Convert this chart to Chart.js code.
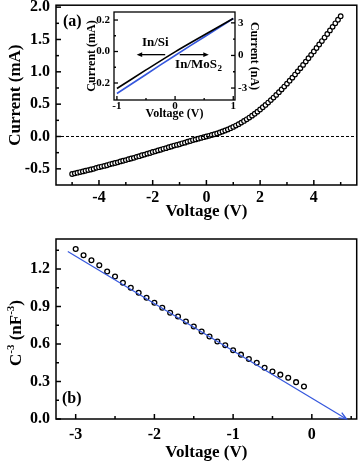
<!DOCTYPE html>
<html lang="en">
<head>
<meta charset="UTF-8">
<title>I-V and C-V plots</title>
<style>
  html, body { margin: 0; padding: 0; background: #fff; }
  .wrap { position: relative; width: 362px; height: 466px; overflow: hidden; }
  canvas { position: absolute; }
  #chartA { left: 0; top: 0; }
  #chartB { left: 0; top: 233px; }
  #chartIn { left: 84px; top: 7px; }
</style>
<script src="https://cdn.jsdelivr.net/npm/chart.js"></script>
</head>
<body>
<div class="wrap">
  <canvas id="chartA" width="362" height="233"></canvas>
  <canvas id="chartB" width="362" height="233"></canvas>
  <canvas id="chartIn" width="178" height="116"></canvas>
</div>
<script>
// (a) I-V curve, mA
const ivVoltage = [-5.0, -4.9, -4.8, -4.7, -4.6, -4.5, -4.4, -4.3, -4.2, -4.1,
  -4.0, -3.9, -3.8, -3.7, -3.6, -3.5, -3.4, -3.3, -3.2, -3.1,
  -3.0, -2.9, -2.8, -2.7, -2.6, -2.5, -2.4, -2.3, -2.2, -2.1,
  -2.0, -1.9, -1.8, -1.7, -1.6, -1.5, -1.4, -1.3, -1.2, -1.1,
  -1.0, -0.9, -0.8, -0.7, -0.6, -0.5, -0.4, -0.3, -0.2, -0.1,
  0.0, 0.1, 0.2, 0.3, 0.4, 0.5, 0.6, 0.7, 0.8, 0.9,
  1.0, 1.1, 1.2, 1.3, 1.4, 1.5, 1.6, 1.7, 1.8, 1.9,
  2.0, 2.1, 2.2, 2.3, 2.4, 2.5, 2.6, 2.7, 2.8, 2.9,
  3.0, 3.1, 3.2, 3.3, 3.4, 3.5, 3.6, 3.7, 3.8, 3.9,
  4.0, 4.1, 4.2, 4.3, 4.4, 4.5, 4.6, 4.7, 4.8, 4.9, 5.0];
const ivCurrent = [-0.58, -0.57, -0.56, -0.55, -0.54, -0.53, -0.52, -0.51, -0.50, -0.485,
  -0.475, -0.465, -0.455, -0.445, -0.43, -0.42, -0.41, -0.40, -0.385, -0.375,
  -0.365, -0.35, -0.34, -0.33, -0.315, -0.305, -0.29, -0.28, -0.265, -0.255,
  -0.24, -0.23, -0.215, -0.205, -0.19, -0.18, -0.165, -0.155, -0.14, -0.13,
  -0.12, -0.105, -0.095, -0.08, -0.07, -0.055, -0.045, -0.033, -0.022, -0.011,
  0.00, 0.011, 0.023, 0.035, 0.048, 0.062, 0.077, 0.093, 0.11, 0.128,
  0.148, 0.169, 0.191, 0.215, 0.24, 0.266, 0.293, 0.322, 0.352, 0.384,
  0.417, 0.452, 0.488, 0.525, 0.563, 0.602, 0.643, 0.685, 0.728, 0.772,
  0.817, 0.863, 0.91, 0.958, 1.007, 1.057, 1.107, 1.158, 1.21, 1.262,
  1.315, 1.368, 1.422, 1.476, 1.53, 1.585, 1.64, 1.695, 1.75, 1.805, 1.86];
const ivXTicks = [-4, -2, 0, 2, 4];
const ivXMinor = [-5, -3, -1, 1, 3, 5];
const ivYTicks = [-0.5, 0.0, 0.5, 1.0, 1.5, 2.0];
const ivYMinor = [-0.25, 0.25, 0.75, 1.25, 1.75];

// inset: In/Si in mA (left axis), In/MoS2 in nA (right axis)
const insetVoltage = [-1.0, -0.5, 0.0, 0.5, 1.0];
const inSiCurrent = [-0.235, -0.117, -0.002, 0.105, 0.21];
const inMoS2Current = [-3.5, -1.75, 0.0, 1.7, 3.4];
const insetXTicks = [-1, 0, 1];
const insetXMinor = [-0.5, 0.5];
const insetYTicks = [-0.2, 0.0, 0.2];
const insetYMinor = [-0.1, 0.1];
const insetY2Ticks = [-3, 0, 3];
const insetY2Minor = [-1.5, 1.5];

// (b) C^-3 vs V
const cvVoltage = [-3.0, -2.9, -2.8, -2.7, -2.6, -2.5, -2.4, -2.3, -2.2, -2.1,
  -2.0, -1.9, -1.8, -1.7, -1.6, -1.5, -1.4, -1.3, -1.2, -1.1,
  -1.0, -0.9, -0.8, -0.7, -0.6, -0.5, -0.4, -0.3, -0.2, -0.1];
const cvInvC3 = [1.36, 1.31, 1.27, 1.23, 1.18, 1.14, 1.09, 1.05, 1.01, 0.97,
  0.93, 0.89, 0.85, 0.82, 0.78, 0.74, 0.70, 0.66, 0.62, 0.59,
  0.55, 0.515, 0.48, 0.45, 0.41, 0.38, 0.355, 0.33, 0.295, 0.26];
const fitVoltage = [-3.1, 0.44];
const fitInvC3 = [1.34, 0.0];
const cvXTicks = [-3, -2, -1, 0];
const cvXMinor = [-2.5, -1.5, -0.5, 0.5];
const cvYTicks = [0.0, 0.3, 0.6, 0.9, 1.2];
const cvYMinor = [0.15, 0.45, 0.75, 1.05, 1.35];

const BLUE = '#3557dd';
const SERIF = "'Liberation Serif', 'Times New Roman', serif";

Chart.defaults.font.family = SERIF;
Chart.defaults.font.weight = 'bold';
Chart.defaults.color = '#000';

const pts = (xs, ys) => xs.map((x, i) => ({ x: x, y: ys[i] }));
const setTicks = list => s => { s.ticks = list.map(v => ({ value: v })); };
const fixW = w => s => { s.width = w; s.paddingTop = 0; s.paddingBottom = 0; };
const fixH = h => s => { s.height = h; s.paddingLeft = 0; s.paddingRight = 0; };

// box round the plot area, inward ticks, and extra drawings
const framePlugin = {
  id: 'frame',
  afterDraw(chart, args, opts) {
    const ctx = chart.ctx, a = chart.chartArea;
    ctx.save();
    ctx.strokeStyle = '#000';
    ctx.lineWidth = opts.lineWidth || 1.5;
    ctx.strokeRect(a.left, a.top, a.right - a.left, a.bottom - a.top);
    (opts.ticks || []).forEach(t => {
      const s = chart.scales[t.scale];
      const mark = (v, len) => {
        const p = s.getPixelForValue(v);
        ctx.beginPath();
        if (t.side === 'bottom') { ctx.moveTo(p, a.bottom); ctx.lineTo(p, a.bottom - len); }
        else if (t.side === 'left') { ctx.moveTo(a.left, p); ctx.lineTo(a.left + len, p); }
        else { ctx.moveTo(a.right, p); ctx.lineTo(a.right - len, p); }
        ctx.stroke();
      };
      t.major.forEach(v => mark(v, opts.majorLen || 5));
      t.minor.forEach(v => mark(v, opts.minorLen || 3));
    });
    ctx.restore();
    if (opts.extra) opts.extra(chart, ctx, a);
  }
};

function arrowHead(ctx, x0, y0, x1, y1, size, filled) {
  const ang = Math.atan2(y1 - y0, x1 - x0);
  ctx.beginPath();
  ctx.moveTo(x1 - size * Math.cos(ang - 0.4), y1 - size * Math.sin(ang - 0.4));
  ctx.lineTo(x1, y1);
  ctx.lineTo(x1 - size * Math.cos(ang + 0.4), y1 - size * Math.sin(ang + 0.4));
  if (filled) { ctx.closePath(); ctx.fill(); } else { ctx.stroke(); }
}

// ---------- panel (a) ----------
new Chart(document.getElementById('chartA'), {
  type: 'scatter',
  data: {
    datasets: [{
      data: pts(ivVoltage, ivCurrent),
      pointRadius: 2.3,
      pointBorderWidth: 1.2,
      pointBorderColor: '#000',
      pointBackgroundColor: '#fff',
      showLine: false
    }]
  },
  options: {
    responsive: false,
    animation: false,
    devicePixelRatio: 1,
    layout: { padding: { top: 5, right: 3, left: 0, bottom: 0 } },
    plugins: {
      legend: { display: false },
      tooltip: { enabled: false },
      frame: {
        ticks: [
          { scale: 'x', side: 'bottom', major: ivXTicks, minor: ivXMinor },
          { scale: 'y', side: 'left', major: ivYTicks, minor: ivYMinor }
        ],
        extra(chart, ctx, a) {
          const y0 = chart.scales.y.getPixelForValue(0);
          ctx.save();
          ctx.strokeStyle = '#000';
          ctx.lineWidth = 1;
          ctx.setLineDash([3, 2]);
          ctx.beginPath();
          ctx.moveTo(a.left, y0);
          ctx.lineTo(a.right, y0);
          ctx.stroke();
          ctx.setLineDash([]);
          ctx.font = 'bold 16px ' + SERIF;
          ctx.fillStyle = '#000';
          ctx.textBaseline = 'middle';
          ctx.fillText('(a)', a.left + 7, a.top + 17);
          ctx.restore();
        }
      }
    },
    scales: {
      x: {
        type: 'linear', min: -5.6, max: 5.6,
        afterBuildTicks: setTicks(ivXTicks),
        afterFit: fixH(48),
        grid: { display: false, drawTicks: false },
        border: { display: false },
        ticks: { font: { size: 16 }, padding: 3, callback: v => String(v) },
        title: { display: true, text: 'Voltage (V)', font: { size: 17 }, padding: { bottom: 11, top: 0 } }
      },
      y: {
        type: 'linear', min: -0.75, max: 2.03,
        afterBuildTicks: setTicks(ivYTicks),
        afterFit: fixW(56),
        grid: { display: false, drawTicks: false },
        border: { display: false },
        ticks: { font: { size: 16 }, padding: 6, callback: v => v.toFixed(1) },
        title: { display: true, text: 'Current (mA)', font: { size: 17 }, padding: { top: 5, bottom: 0 } }
      }
    }
  },
  plugins: [framePlugin]
});

// ---------- inset ----------
new Chart(document.getElementById('chartIn'), {
  type: 'scatter',
  data: {
    datasets: [{
      data: pts(insetVoltage, inSiCurrent),
      yAxisID: 'y',
      showLine: true,
      borderColor: '#000',
      borderWidth: 1.6,
      pointRadius: 0,
      tension: 0.3
    }, {
      data: pts(insetVoltage, inMoS2Current),
      yAxisID: 'y2',
      showLine: true,
      borderColor: BLUE,
      borderWidth: 1.6,
      pointRadius: 0,
      tension: 0.3
    }]
  },
  options: {
    responsive: false,
    animation: false,
    devicePixelRatio: 1,
    layout: { padding: { top: 5, right: 0, left: 0, bottom: 0 } },
    plugins: {
      legend: { display: false },
      tooltip: { enabled: false },
      frame: {
        lineWidth: 1.3,
        majorLen: 4,
        minorLen: 2,
        ticks: [
          { scale: 'x', side: 'bottom', major: insetXTicks, minor: insetXMinor },
          { scale: 'y', side: 'left', major: insetYTicks, minor: insetYMinor },
          { scale: 'y2', side: 'right', major: insetY2Ticks, minor: insetY2Minor }
        ],
        extra(chart, ctx, a) {
          const sx = chart.scales.x, sy = chart.scales.y;
          const yA = sy.getPixelForValue(-0.02);
          ctx.save();
          ctx.strokeStyle = '#000';
          ctx.fillStyle = '#000';
          ctx.lineWidth = 1.3;
          // In/Si arrow (to the left)
          let x0 = sx.getPixelForValue(-0.17), x1 = sx.getPixelForValue(-0.66);
          ctx.beginPath(); ctx.moveTo(x0, yA); ctx.lineTo(x1 + 3, yA); ctx.stroke();
          arrowHead(ctx, x0, yA, x1, yA, 6, true);
          // In/MoS2 arrow (to the right)
          x0 = sx.getPixelForValue(0.08); x1 = sx.getPixelForValue(0.58);
          ctx.beginPath(); ctx.moveTo(x0, yA); ctx.lineTo(x1 - 3, yA); ctx.stroke();
          arrowHead(ctx, x0, yA, x1, yA, 6, true);
          ctx.font = 'bold 13px ' + SERIF;
          ctx.textBaseline = 'middle';
          ctx.textAlign = 'center';
          ctx.fillText('In/Si', sx.getPixelForValue(-0.34), sy.getPixelForValue(0.057));
          ctx.textAlign = 'left';
          const tx = sx.getPixelForValue(0.0), ty = sy.getPixelForValue(-0.083);
          ctx.fillText('In/MoS', tx, ty);
          const w = ctx.measureText('In/MoS').width;
          ctx.font = 'bold 9px ' + SERIF;
          ctx.fillText('2', tx + w + 0.5, ty + 4);
          ctx.restore();
        }
      }
    },
    scales: {
      x: {
        type: 'linear', min: -1.05, max: 1.03,
        afterBuildTicks: setTicks(insetXTicks),
        afterFit: fixH(23),
        grid: { display: false, drawTicks: false },
        border: { display: false },
        ticks: { font: { size: 11 }, padding: 0, callback: v => String(v) },
        title: { display: true, text: 'Voltage (V)', font: { size: 12 }, padding: { bottom: 2, top: 0 } }
      },
      y: {
        type: 'linear', position: 'left', min: -0.308, max: 0.251,
        afterBuildTicks: setTicks(insetYTicks),
        afterFit: fixW(30),
        grid: { display: false, drawTicks: false },
        border: { display: false },
        ticks: { font: { size: 11 }, padding: 4, callback: v => v.toFixed(1) },
        title: { display: true, text: 'Current (mA)', font: { size: 12 }, padding: { top: 1, bottom: 0 } }
      },
      y2: {
        type: 'linear', position: 'right', min: -4.1, max: 4.0,
        afterBuildTicks: setTicks(insetY2Ticks),
        afterFit: fixW(27),
        grid: { display: false, drawTicks: false },
        border: { display: false },
        ticks: { font: { size: 11 }, padding: 3, callback: v => String(v) },
        title: { display: true, text: 'Current (nA)', font: { size: 12 }, padding: { top: 1, bottom: 0 } }
      }
    }
  },
  plugins: [{
    id: 'whiteBg',
    beforeDraw(chart) {
      const a = chart.chartArea, ctx = chart.ctx;
      ctx.save();
      ctx.fillStyle = '#fff';
      ctx.fillRect(a.left, a.top, a.right - a.left, a.bottom - a.top);
      ctx.restore();
    }
  }, framePlugin]
});

// ---------- panel (b) ----------
new Chart(document.getElementById('chartB'), {
  type: 'scatter',
  data: {
    datasets: [{
      data: pts(fitVoltage, fitInvC3),
      showLine: true,
      borderColor: BLUE,
      borderWidth: 1.2,
      pointRadius: 0
    }, {
      data: pts(cvVoltage, cvInvC3),
      pointRadius: 2.4,
      pointBorderWidth: 1.3,
      pointBorderColor: '#000',
      pointBackgroundColor: 'rgba(255,255,255,0)',
      showLine: false
    }]
  },
  options: {
    responsive: false,
    animation: false,
    devicePixelRatio: 1,
    layout: { padding: { top: 6, right: 3, left: 0, bottom: 0 } },
    plugins: {
      legend: { display: false },
      tooltip: { enabled: false },
      frame: {
        ticks: [
          { scale: 'x', side: 'bottom', major: cvXTicks, minor: cvXMinor },
          { scale: 'y', side: 'left', major: cvYTicks, minor: cvYMinor }
        ],
        extra(chart, ctx, a) {
          const line = chart.getDatasetMeta(0).data;
          const p0 = line[line.length - 2], p1 = line[line.length - 1];
          ctx.save();
          ctx.strokeStyle = BLUE;
          ctx.lineWidth = 1.3;
          arrowHead(ctx, p0.x, p0.y, p1.x, p1.y, 8, false);
          ctx.fillStyle = '#000';
          ctx.font = 'bold 16px ' + SERIF;
          ctx.textBaseline = 'middle';
          ctx.fillText('(b)', a.left + 6, a.bottom - 20);
          // y title with superscripts
          const big = 'bold 17px ' + SERIF, small = 'bold 11px ' + SERIF;
          const parts = [['C', big, 0], ['-3', small, -6], [' (nF', big, 0], ['-3', small, -6], [')', big, 0]];
          let total = 0;
          parts.forEach(p => { ctx.font = p[1]; total += ctx.measureText(p[0]).width; });
          ctx.translate(17, (a.top + a.bottom) / 2 + 4);
          ctx.rotate(-Math.PI / 2);
          let x = -total / 2;
          parts.forEach(p => {
            ctx.font = p[1];
            ctx.fillText(p[0], x, p[2]);
            x += ctx.measureText(p[0]).width;
          });
          ctx.restore();
        }
      }
    },
    scales: {
      x: {
        type: 'linear', min: -3.25, max: 0.57,
        afterBuildTicks: setTicks(cvXTicks),
        afterFit: fixH(47),
        grid: { display: false, drawTicks: false },
        border: { display: false },
        ticks: { font: { size: 16 }, padding: 6, callback: v => String(v) },
        title: { display: true, text: 'Voltage (V)', font: { size: 17 }, padding: { bottom: 3, top: 0 } }
      },
      y: {
        type: 'linear', min: 0, max: 1.44,
        afterBuildTicks: setTicks(cvYTicks),
        afterFit: fixW(56),
        grid: { display: false, drawTicks: false },
        border: { display: false },
        ticks: { font: { size: 16 }, padding: 6, callback: v => v.toFixed(1) }
      }
    }
  },
  plugins: [framePlugin]
});
</script>
</body>
</html>
